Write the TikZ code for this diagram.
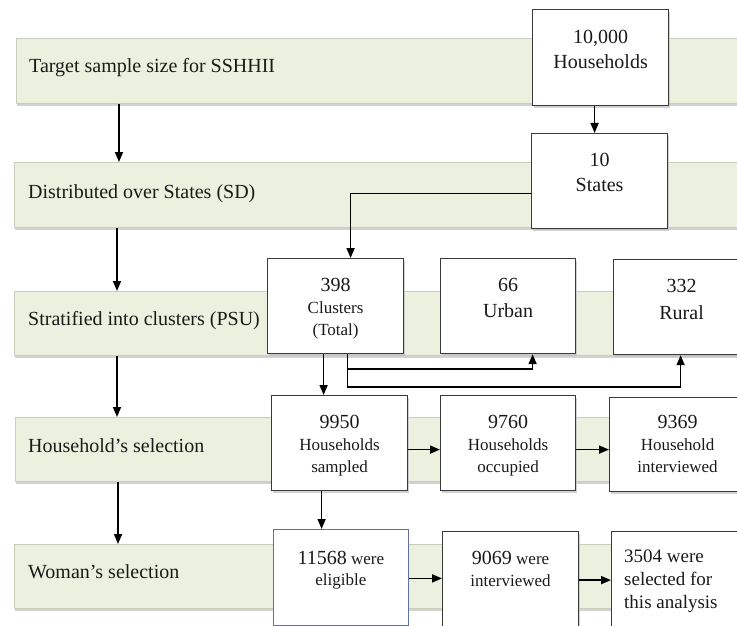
\documentclass[tikz,border=0pt]{standalone}
\usepackage{fontspec}
\setmainfont{Liberation Serif}
\usetikzlibrary{arrows.meta,shadows}
\definecolor{bandfill}{HTML}{EBF1DE}
\definecolor{bandline}{HTML}{C9CEBA}
\definecolor{boxline}{HTML}{3A3A3A}
\definecolor{blueline}{HTML}{5F7299}
\definecolor{ink}{HTML}{1A1A1A}

\begin{document}
\begin{tikzpicture}[x=1pt,y=-1pt,
  every node/.style={text=ink},
  band/.style={anchor=north west, fill=bandfill, draw=bandline, line width=0.8pt,
    minimum width=740pt, inner sep=0pt,
    drop shadow={shadow xshift=0.5pt, shadow yshift=-3pt, fill=black!22, opacity=0.8}},
  stage/.style={anchor=base west, inner sep=0pt, font=\fontsize{20}{24}\selectfont},
  box/.style={anchor=north west, fill=white, draw=boxline, line width=1.2pt,
    inner sep=0pt, minimum width=136pt, minimum height=96pt,
    drop shadow={shadow xshift=1pt, shadow yshift=-2pt, fill=black!25, opacity=0.7}},
  boxtext/.style={anchor=north, inner sep=0pt, align=center},
  big/.style={font=\fontsize{20}{25}\selectfont},
  mixed/.style={font=\fontsize{17}{22}\selectfont},
  flow/.style={-{Triangle[length=10pt,width=8pt]}, line width=1.7pt, draw=black},
]
\useasboundingbox (0,0) rectangle (737,626);
\clip (0,0) rectangle (737,626);

% stages of the sampling design
\node[band, minimum height=65pt] (s1) at (16,38) {};
\node[band, minimum height=65pt] (s2) at (14,162) {};
\node[band, minimum height=64pt] (s3) at (14,291) {};
\node[band, minimum height=64pt] (s4) at (15,417) {};
\node[band, minimum height=64pt] (s5) at (14,544) {};

\node[stage] (l1) at (29,73)  {Target sample size for SSHHII};
\node[stage] (l2) at (28,198) {Distributed over States (SD)};
\node[stage] (l3) at (28,325) {Stratified into clusters (PSU)};
\node[stage] (l4) at (28,452) {Household’s selection};
\node[stage] (l5) at (28,578) {Woman’s selection};

\foreach \a/\b in {s1/s2, s2/s3, s3/s4, s4/s5}
  \draw[flow] ([xshift=103pt]\a.south west) -- ([xshift=103pt]\a.south west |- \b.north);

% counts at each stage
\node[box] (b1) at (532,9)   {};
\node[box, minimum height=95pt] (b2) at (531,133) {};
\node[box, minimum height=95pt] (c)  at (267,258) {};
\node[box, minimum width=135pt, minimum height=95pt] (u)  at (440,258) {};
\node[box, minimum height=95pt] (r)  at (613,259) {};
\node[box, minimum height=95pt] (h1) at (271,395) {};
\node[box, minimum width=135pt, minimum height=95pt] (h2) at (440,395) {};
\node[box, minimum height=94pt] (h3) at (609,397) {};
\node[box, draw=blueline, line width=0.8pt, minimum width=135pt, minimum height=96pt] (w1) at (273,529) {};
\node[box, minimum height=95pt] (w2) at (442,531) {};
\node[box, minimum height=95pt] (w3) at (611,531) {};

\node[boxtext, big] (tb1) at ([yshift=-21pt]b1.north) {10,000\\Households};
\node[boxtext, big] (tb2) at ([yshift=-20pt]b2.north) {10\\States};
\node[boxtext, mixed] (tc) at ([yshift=-20pt]c.north) {{\fontsize{20}{20}\selectfont 398}\\Clusters\\(Total)};
\node[boxtext, font=\fontsize{20}{26}\selectfont] (tu) at ([yshift=-20pt]u.north) {66\\Urban};
\node[boxtext, font=\fontsize{20}{27}\selectfont] (tr) at ([yshift=-20pt]r.north) {332\\Rural};
\node[boxtext, mixed] (th1) at ([yshift=-20pt]h1.north) {{\fontsize{20}{20}\selectfont 9950}\\Households\\sampled};
\node[boxtext, mixed] (th2) at ([yshift=-20pt]h2.north) {{\fontsize{20}{20}\selectfont 9760}\\Households\\occupied};
\node[boxtext, mixed] (th3) at ([yshift=-18pt]h3.north) {{\fontsize{20}{20}\selectfont 9369}\\Household\\interviewed};
\node[boxtext, font=\fontsize{17}{21}\selectfont] (tw1) at ([yshift=-22pt]w1.north) {{\fontsize{20}{20}\selectfont 11568} were\\eligible};
\node[boxtext, font=\fontsize{17}{22}\selectfont] (tw2) at ([yshift=-20pt]w2.north) {{\fontsize{20}{20}\selectfont 9069} were\\interviewed};
\node[boxtext, anchor=north west, align=left, font=\fontsize{19}{23}\selectfont] (tw3)
  at ([xshift=13pt,yshift=-19pt]w3.north west) {3504 were\\selected for\\this analysis};

% flow between the counts
\draw[flow] ([xshift=-6pt]b1.south) -- ([xshift=-6pt]b1.south |- b2.north);
\draw[flow] ([yshift=-12.5pt]b2.west) -| ([xshift=15pt]c.north);
\draw[flow] ([xshift=12pt]c.south) -- ++(0,15) -| ([xshift=24.5pt]u.south);
\draw[flow] ([xshift=12pt]c.south) -- ++(0,33) -| ([xshift=-1pt]r.south);
\draw[flow] ([xshift=-12pt]c.south) -- ([xshift=-12pt]c.south |- h1.north);
\draw[flow] ([yshift=-6.5pt]h1.east) -- ([yshift=-6.5pt]h1.east -| h2.west);
\draw[flow] ([yshift=-6.5pt]h2.east) -- ([yshift=-6.5pt]h2.east -| h3.west);
\draw[flow] ([xshift=-18pt]h1.south) -- ([xshift=-18pt]h1.south |- w1.north);
\draw[flow] ([yshift=-1pt]w1.east) -- ([yshift=-1pt]w1.east -| w2.west);
\draw[flow] ([yshift=-1pt]w2.east) -- ([yshift=-1pt]w2.east -| w3.west);
\end{tikzpicture}
\end{document}
